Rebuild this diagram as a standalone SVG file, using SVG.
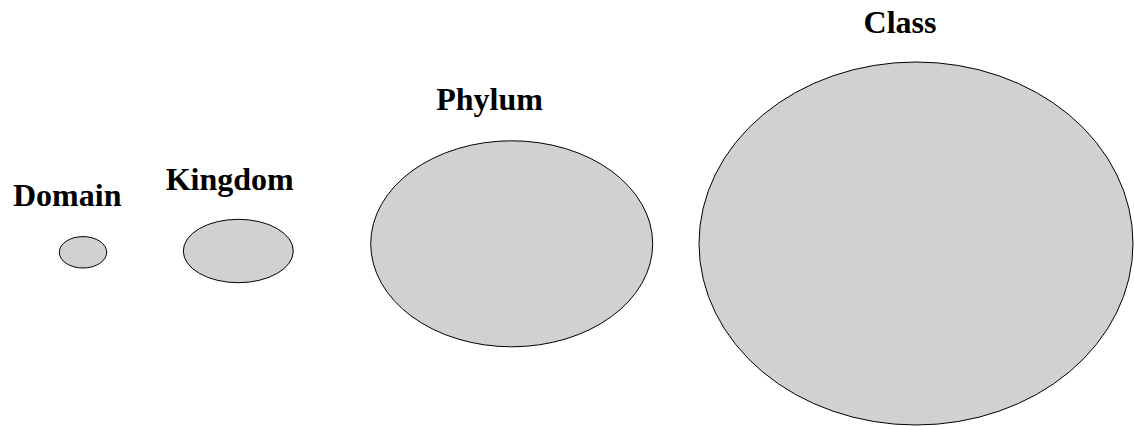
<svg xmlns="http://www.w3.org/2000/svg" width="1134" height="426" viewBox="0 0 1134 426">
  <style>
    .rank { fill: #d1d1d1; stroke: #000000; stroke-width: 1; }
    .label { font-family: "Liberation Serif", "Times New Roman", serif; font-weight: bold; font-size: 32px; fill: #000000; text-anchor: middle; }
  </style>
  <rect width="1134" height="426" fill="#ffffff"/>
  <g id="domain">
    <ellipse class="rank" cx="83" cy="252.3" rx="23.7" ry="15.7"/>
    <text class="label" x="67.2" y="206">Domain</text>
  </g>
  <g id="kingdom">
    <ellipse class="rank" cx="238.3" cy="251" rx="55" ry="31.7"/>
    <text class="label" x="229.7" y="190">Kingdom</text>
  </g>
  <g id="phylum">
    <ellipse class="rank" cx="511.7" cy="243.8" rx="141" ry="103"/>
    <text class="label" x="489.5" y="110">Phylum</text>
  </g>
  <g id="class">
    <ellipse class="rank" cx="916" cy="243.5" rx="217" ry="181.5"/>
    <text class="label" x="900" y="33">Class</text>
  </g>
  <g id="connectors"/>
</svg>
